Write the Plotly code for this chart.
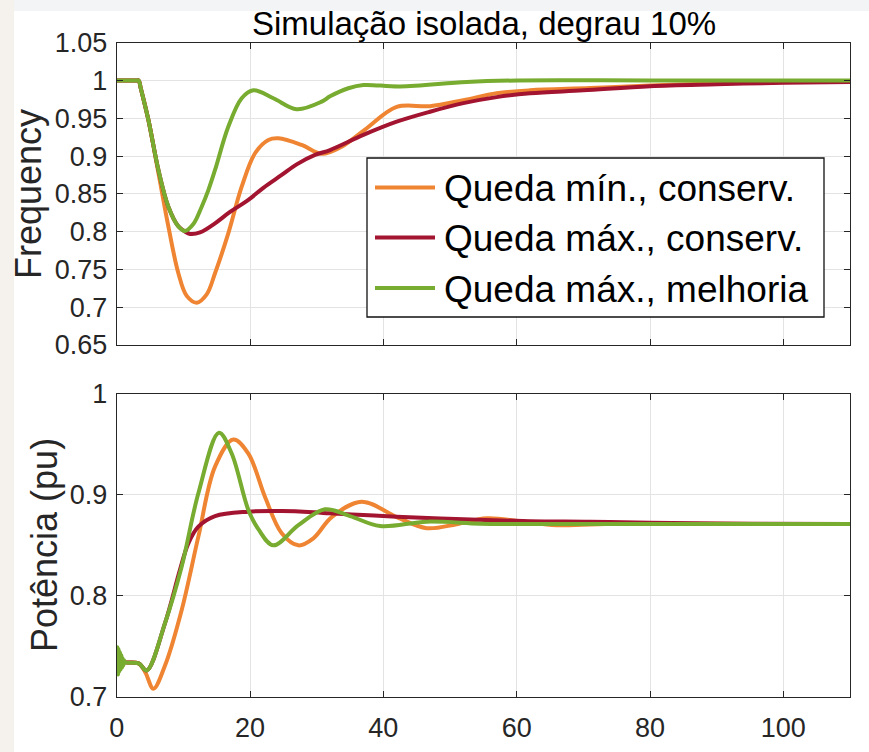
import plotly.graph_objects as go

# ---- Frequency response (top panel) ----
t_f_min_cons = [0, 3.0, 3.3, 3.6, 4.75, 6.25, 7.75, 9.25, 10.5, 12, 13.5, 14.75, 16.75, 18.75, 20.75, 22.75,
                24.25, 27.75, 30.75, 33.75, 37.25, 42, 47, 52, 57, 62, 71, 80, 90, 100, 110]
f_min_cons = [1.0, 1.0, 1.0, 0.990, 0.948, 0.878, 0.807, 0.745, 0.715, 0.706, 0.717, 0.745, 0.798, 0.8595, 0.9037,
              0.9213, 0.9235, 0.9147, 0.903, 0.9125, 0.935, 0.965, 0.966, 0.974, 0.983, 0.987, 0.990, 0.9935, 0.996,
              0.998, 0.999]

t_f_max_cons = [0, 3.0, 3.3, 3.6, 4.75, 6.25, 7.75, 9.25, 10.25, 11, 12.5, 14.75, 17, 19.75, 22, 24.75, 27,
                29.75, 32, 37, 42, 47, 52, 57, 62, 70, 80, 90, 100, 110]
f_max_cons = [1.0, 1.0, 1.0, 0.990, 0.948, 0.882, 0.833, 0.807, 0.800, 0.797, 0.799, 0.811, 0.826, 0.842, 0.858,
              0.875, 0.889, 0.9015, 0.908, 0.928, 0.9455, 0.9587, 0.970, 0.978, 0.983, 0.987, 0.9925, 0.995, 0.997,
              0.998]

t_f_max_melh = [0, 3.0, 3.3, 3.6, 4.75, 6.25, 7.75, 9.25, 10.25, 11.5, 12.75, 13.75, 14.75, 16.75, 18.75, 20.5,
                23.5, 27, 30.75, 32, 34.75, 37, 42.5, 52.5, 60, 80, 110]
f_max_melh = [1.0, 1.0, 1.0, 0.990, 0.948, 0.882, 0.833, 0.807, 0.801, 0.810, 0.833, 0.855, 0.8816, 0.939, 0.9765,
              0.987, 0.9765, 0.962, 0.972, 0.979, 0.9897, 0.994, 0.992, 0.998, 1.0, 1.0, 1.0]

# ---- Generated power (bottom panel) ----
t_p_min_cons = [0, 1.3, 3.3, 4.3, 5.5, 7.25, 9.75, 12.25, 14.75, 17.5, 19.75, 22.25, 24.75, 27.25, 29.5,
                32.25, 36.75, 42, 46.5, 51, 55.5, 60.5, 66, 75, 90, 110]
p_min_cons = [0.736, 0.734, 0.733, 0.724, 0.708, 0.731, 0.786, 0.8586, 0.928, 0.955, 0.941, 0.898, 0.862, 0.850,
              0.857, 0.878, 0.8933, 0.878, 0.867, 0.871, 0.8768, 0.874, 0.870, 0.8715, 0.8713, 0.8712]

t_p_max_cons = [0, 1.3, 3.3, 4.5, 7.25, 9.5, 10.75, 12.25, 14.75, 19.75, 24.75, 29.75, 32, 37, 42, 52,
                62, 71, 80, 95, 110]
p_max_cons = [0.736, 0.734, 0.733, 0.726, 0.773, 0.826, 0.852, 0.8685, 0.879, 0.8834, 0.884, 0.8827, 0.8817,
              0.880, 0.8784, 0.8758, 0.874, 0.8735, 0.8725, 0.8715, 0.8712]

t_p_max_melh = [0, 0.1, 0.2, 0.3, 0.4, 0.5, 0.6, 0.7, 0.8, 0.9, 1.0, 1.1, 1.3, 3.3, 4.5, 7.25, 9.75, 12.25,
                15.35, 17.25, 19.75, 21.25, 23.5, 27.25, 31.25, 35, 39.5, 46.5, 54.5, 60, 110]
p_max_melh = [0.735, 0.749, 0.722, 0.747, 0.725, 0.744, 0.727, 0.741, 0.729, 0.738, 0.731, 0.736, 0.734, 0.733,
              0.726, 0.773, 0.829, 0.9016, 0.9617, 0.941, 0.885, 0.866, 0.850, 0.870, 0.8857, 0.879, 0.8692,
              0.8735, 0.8715, 0.8712, 0.8712]

names = ["Queda mín., conserv.", "Queda máx., conserv.", "Queda máx., melhoria"]
colors = ["#EF8532", "#A2142F", "#77AC30"]

x_ticks = [0, 20, 40, 60, 80, 100]
f_ticks = [0.65, 0.7, 0.75, 0.8, 0.85, 0.9, 0.95, 1.0, 1.05]
f_labels = ["0.65", "0.7", "0.75", "0.8", "0.85", "0.9", "0.95", "1", "1.05"]
p_ticks = [0.7, 0.8, 0.9, 1.0]
p_labels = ["0.7", "0.8", "0.9", "1"]

FONT = "Liberation Sans, Arial, Helvetica, sans-serif"
INK = "#262626"
W, H = 869, 752

fig = go.Figure()

top_series = [(t_f_min_cons, f_min_cons), (t_f_max_cons, f_max_cons), (t_f_max_melh, f_max_melh)]
bot_series = [(t_p_min_cons, p_min_cons), (t_p_max_cons, p_max_cons), (t_p_max_melh, p_max_melh)]

for i, (tx, ty) in enumerate(top_series):
    fig.add_trace(go.Scatter(x=tx, y=ty, mode="lines", name=names[i],
                             line=dict(color=colors[i], width=4, shape="spline", smoothing=1.0),
                             xaxis="x", yaxis="y", showlegend=False))
for i, (tx, ty) in enumerate(bot_series):
    fig.add_trace(go.Scatter(x=tx, y=ty, mode="lines", name=names[i],
                             line=dict(color=colors[i], width=4, shape="spline", smoothing=1.0),
                             xaxis="x2", yaxis="y2", showlegend=False))

x0, x1 = 116.7 / W, 850 / W
axis_common = dict(showline=True, linecolor=INK, linewidth=1, mirror="ticks", ticks="inside",
                   ticklen=6, tickcolor=INK, showgrid=True, gridcolor="#e3e3e3", gridwidth=1,
                   zeroline=False, automargin=False, tickfont=dict(family=FONT, size=27, color=INK))

fig.update_layout(
    width=W, height=H,
    margin=dict(l=0, r=0, t=0, b=0, pad=0, autoexpand=False),
    paper_bgcolor="white", plot_bgcolor="white",
    xaxis=dict(domain=[x0, x1], range=[0, 110], tickvals=x_ticks, showticklabels=False,
               anchor="y", **axis_common),
    yaxis=dict(domain=[1 - 345 / H, 1 - 42.7 / H], range=[0.65, 1.05], tickvals=f_ticks,
               ticktext=f_labels, anchor="x", ticklabelstandoff=3, **axis_common),
    xaxis2=dict(domain=[x0, x1], range=[0, 110], tickvals=x_ticks, anchor="y2",
                ticklabelstandoff=7, **axis_common),
    yaxis2=dict(domain=[1 - 696.7 / H, 1 - 394 / H], range=[0.7, 1.0], tickvals=p_ticks,
                ticktext=p_labels, anchor="x2", ticklabelstandoff=3, **axis_common),
    showlegend=False,
)

annotations = [
    dict(text="Simulação isolada, degrau 10%", x=483.5 / W, y=1 - 23 / H, xref="paper", yref="paper",
         showarrow=False, font=dict(family=FONT, size=33, color="black"), xanchor="center", yanchor="middle"),
    dict(text="Frequency", x=28 / W, y=1 - 194 / H, xref="paper", yref="paper", textangle=-90,
         showarrow=False, font=dict(family=FONT, size=36, color=INK), xanchor="center", yanchor="middle"),
    dict(text="Potência (pu)", x=44 / W, y=1 - 545 / H, xref="paper", yref="paper", textangle=-90,
         showarrow=False, font=dict(family=FONT, size=36, color=INK), xanchor="center", yanchor="middle"),
]

# faint surround of the figure window
shapes = [
    dict(type="rect", xref="paper", yref="paper", x0=0, x1=1, y0=1 - 11 / H, y1=1,
         fillcolor="#f3f4f6", line=dict(width=0), layer="below"),
    dict(type="rect", xref="paper", yref="paper", x0=0, x1=14 / W, y0=0, y1=1,
         fillcolor="#f5f1ec", line=dict(width=0), layer="below"),
]

# legend box inside the frequency axes
leg_left, leg_right, leg_top, leg_bottom = 367, 824, 158, 317
row_y = [187.5, 237.5, 288]
shapes.append(dict(type="rect", xref="paper", yref="paper",
                   x0=leg_left / W, x1=leg_right / W, y0=1 - leg_bottom / H, y1=1 - leg_top / H,
                   fillcolor="white", line=dict(color="#111111", width=1.3), layer="above"))
for name, color, ry in zip(names, colors, row_y):
    shapes.append(dict(type="line", xref="paper", yref="paper",
                       x0=375 / W, x1=435 / W, y0=1 - ry / H, y1=1 - ry / H,
                       line=dict(color=color, width=4), layer="above"))
    annotations.append(dict(text=name, x=442 / W, y=1 - (ry + 1) / H, xref="paper", yref="paper",
                            showarrow=False, xanchor="left", yanchor="middle",
                            font=dict(family=FONT, size=37, color="black")))

fig.update_layout(annotations=annotations, shapes=shapes)

fig.write_html("out.html")
